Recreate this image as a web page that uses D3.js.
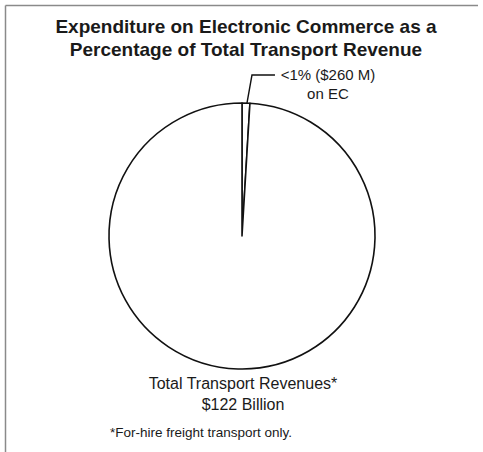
<!DOCTYPE html>
<html>
<head>
<meta charset="utf-8">
<script src="https://cdn.jsdelivr.net/npm/d3@7"></script>
<style>
  body { margin: 0; background: #fff; }
  svg { display: block; font-family: "Liberation Sans", Arial, Helvetica, sans-serif; }
</style>
</head>
<body>
<div id="chart"></div>
<script>
// Chart data (slice share)
const categories = ["EC", "Other transport revenue"];
const shares = [0.95, 99.05];
const titleLines = ["Expenditure on Electronic Commerce as a", "Percentage of Total Transport Revenue"];
const ecLabel = ["<1% ($260 M)", "on EC"];
const totalLabel = ["Total Transport Revenues*", "$122 Billion"];
const footnote = "*For-hire freight transport only.";

const width = 483, height = 452;
const cx = 242, cy = 236, radius = 133;

const svg = d3.select("#chart").append("svg")
  .attr("width", width)
  .attr("height", height);

// frame (top and left edges only, like the scan)
svg.append("line")
  .attr("x1", 5.5).attr("y1", 5.5).attr("x2", 478).attr("y2", 5.5)
  .attr("stroke", "#8a8a8a").attr("stroke-width", 1.5);
svg.append("line")
  .attr("x1", 5.5).attr("y1", 5.5).attr("x2", 5.5).attr("y2", height)
  .attr("stroke", "#8a8a8a").attr("stroke-width", 1.5);

// Title
svg.append("text")
  .attr("text-anchor", "middle")
  .attr("font-weight", "bold")
  .attr("font-size", 19)
  .attr("fill", "#1a1a1a")
  .selectAll("tspan")
  .data(titleLines)
  .enter()
  .append("tspan")
  .attr("x", 246)
  .attr("y", (d, i) => 33 + i * 23)
  .text(d => d);

// Pie
const pie = d3.pie().sort(null).value(d => d.value);
const arcs = pie(categories.map((c, i) => ({label: c, value: shares[i]})));
const arc = d3.arc().innerRadius(0).outerRadius(radius);

const g = svg.append("g").attr("transform", `translate(${cx},${cy})`);
g.selectAll("path")
  .data(arcs)
  .enter()
  .append("path")
  .attr("d", arc)
  .attr("fill", "#fff")
  .attr("stroke", "#111")
  .attr("stroke-width", 1.6)
  .attr("stroke-linejoin", "round");

// leader line from EC slice
const ec = arcs[0];
const mid = (ec.startAngle + ec.endAngle) / 2;
const px = Math.sin(mid) * radius, py = -Math.cos(mid) * radius;
g.append("polyline")
  .attr("points", `${px + 1},${py} ${px + 6},${py - 28} ${px + 29},${py - 28}`)
  .attr("fill", "none")
  .attr("stroke", "#111")
  .attr("stroke-width", 1.4);

g.append("text")
  .attr("text-anchor", "middle")
  .attr("font-size", 15)
  .attr("fill", "#1a1a1a")
  .selectAll("tspan")
  .data(ecLabel)
  .enter()
  .append("tspan")
  .attr("x", px + 82)
  .attr("y", (d, i) => py - 23 + i * 19)
  .text(d => d);

// bottom labels
svg.append("text")
  .attr("text-anchor", "middle")
  .attr("font-size", 16)
  .attr("fill", "#1a1a1a")
  .selectAll("tspan")
  .data(totalLabel)
  .enter()
  .append("tspan")
  .attr("x", 243)
  .attr("y", (d, i) => 389 + i * 21)
  .text(d => d);

svg.append("text")
  .attr("x", 110)
  .attr("y", 437)
  .attr("font-size", 13.5)
  .attr("fill", "#1a1a1a")
  .text(footnote);
</script>
</body>
</html>
